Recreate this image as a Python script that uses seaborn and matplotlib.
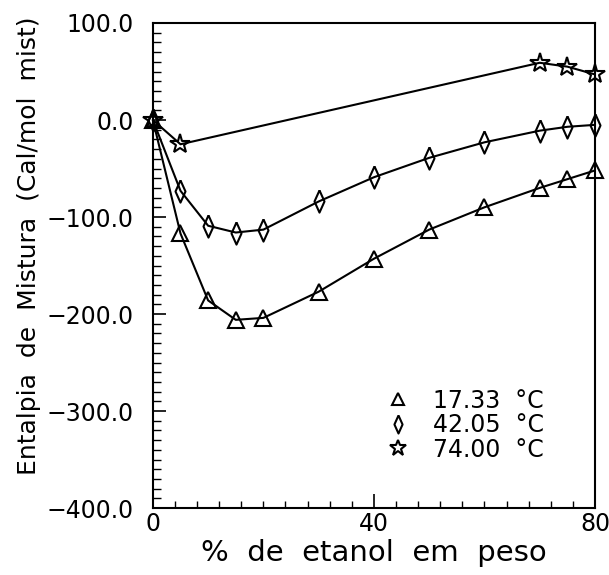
import matplotlib
matplotlib.use("Agg")
import matplotlib.pyplot as plt
import seaborn as sns
import pandas as pd
from matplotlib.lines import Line2D
from matplotlib.ticker import MultipleLocator, FuncFormatter

sns.set_theme(style="white")
plt.rcParams['font.family'] = ['DejaVu Sans']
plt.rcParams['text.color'] = 'black'

x_t17 = [0, 5, 10, 15, 20, 30, 40, 50, 60, 70, 75, 80]
y_t17 = [0, -117, -186, -206, -204, -177, -143, -113, -90, -70, -61, -52]

x_t42 = [0, 5, 10, 15, 20, 30, 40, 50, 60, 70, 75, 80]
y_t42 = [0, -73, -109, -116, -113, -84, -59, -39, -23, -11, -7, -5]

x_t74 = [0, 5, 70, 75, 80]
y_t74 = [0, -25, 59, 55, 47]

labels = ["17.33  °C", "42.05  °C", "74.00  °C"]

DIAMOND = [(0, 1), (0.45, 0), (0, -1), (-0.45, 0), (0, 1)]

fig = plt.figure(figsize=(6.09, 5.75), dpi=100)
ax = fig.add_axes([0.251, 0.1165, 0.726, 0.8435])

df17 = pd.DataFrame({"x": x_t17, "y": y_t17})
df42 = pd.DataFrame({"x": x_t42, "y": y_t42})
df74 = pd.DataFrame({"x": x_t74, "y": y_t74})

common = dict(color="black", linewidth=1.5, markerfacecolor="none",
              markeredgecolor="black", markeredgewidth=1.5, ax=ax, legend=False)
sns.lineplot(data=df17, x="x", y="y", marker="^", markersize=12, **common)
sns.lineplot(data=df42, x="x", y="y", marker=DIAMOND, markersize=16, **common)
sns.lineplot(data=df74, x="x", y="y", marker="*", markersize=15, **common)
for ln in ax.lines:
    ln.set_clip_on(False)

ax.set_xlim(0, 80)
ax.set_ylim(-400, 100)
ax.set_xticks([0, 40, 80])
ax.xaxis.set_minor_locator(MultipleLocator(4))
ax.set_yticks([100, 0, -100, -200, -300, -400])
ax.yaxis.set_minor_locator(MultipleLocator(10))
ax.yaxis.set_major_formatter(FuncFormatter(lambda v, p: f"{v:.1f}".replace("-", "\u2212")))
ax.tick_params(axis="both", which="both", direction="in", colors="black",
               labelsize=17, bottom=True, left=True, top=False, right=False)
ax.tick_params(axis="x", which="major", length=10, width=1.2, pad=3)
ax.tick_params(axis="x", which="minor", length=5, width=1.0)
ax.tick_params(axis="y", which="major", length=9, width=1.2, pad=14)
ax.tick_params(axis="y", which="minor", length=6, width=1.0)
for s in ax.spines.values():
    s.set_color("black")
    s.set_linewidth(1.5)

ax.set_xlabel("%  de  etanol  em  peso", fontsize=21, color="black", labelpad=2)
ax.set_ylabel("Entalpia  de  Mistura  (Cal/mol  mist)", fontsize=18, color="black")
ax.yaxis.set_label_coords(-0.253, 0.54)

handles = [
    Line2D([], [], linestyle="none", marker="^", markersize=9, markerfacecolor="none",
           markeredgecolor="black", markeredgewidth=1.5),
    Line2D([], [], linestyle="none", marker=DIAMOND,
           markersize=13, markerfacecolor="none", markeredgecolor="black", markeredgewidth=1.5),
    Line2D([], [], linestyle="none", marker="*", markersize=12, markerfacecolor="none",
           markeredgecolor="black", markeredgewidth=1.5),
]
ax.legend(handles, labels, loc="center left", bbox_to_anchor=(0.527, 0.171),
          frameon=False, fontsize=17, handlelength=1.0, handletextpad=1.0,
          labelspacing=0.02, borderpad=0, borderaxespad=0, labelcolor="black")

fig.savefig("out.png", dpi=100)
